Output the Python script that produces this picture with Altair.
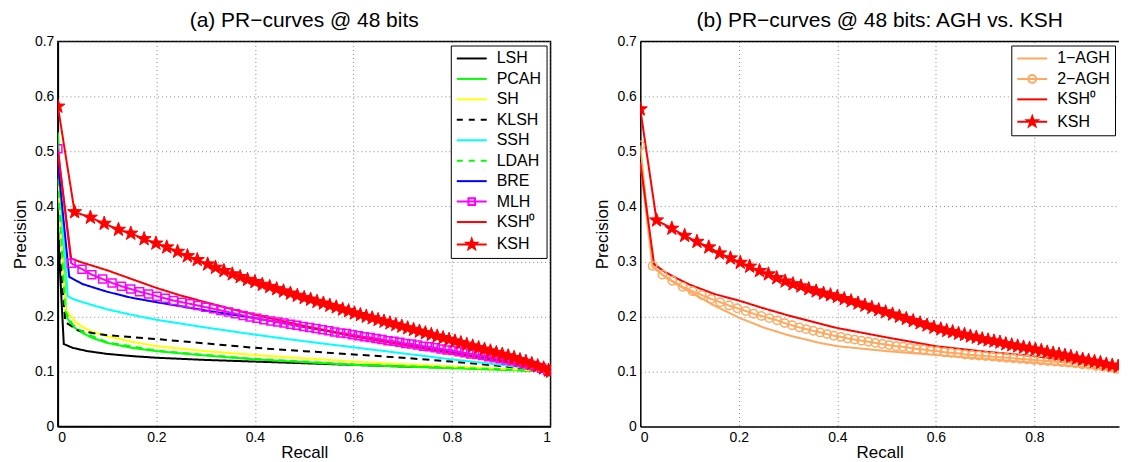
import math
import altair as alt
import pandas as pd

FONT = "Liberation Sans"

# ---------------- panel (a) data ----------------
methods_a = ["LSH", "PCAH", "SH", "KLSH", "SSH", "LDAH", "BRE", "MLH", "KSH⁰", "KSH"]
colors_a = ["#000000", "#00FF00", "#FFFF00", "#000000", "#00FFFF", "#00FF00",
            "#0000FF", "#FF00FF", "#FF0000", "#FF0000"]
dashed_a = [False, False, False, True, False, True, False, False, False, False]

lsh_r = [0, 0.012, 0.03, 0.06, 0.1, 0.15, 0.2, 0.3, 0.4, 0.5, 0.6, 0.7, 0.8, 0.9, 1.0]
lsh_p = [0.36, 0.150, 0.143, 0.137, 0.132, 0.128, 0.125, 0.121, 0.118, 0.115, 0.112, 0.109, 0.107, 0.104, 0.100]

pcah_r = [0, 0.017, 0.03, 0.05, 0.07, 0.1, 0.15, 0.2, 0.3, 0.4, 0.5, 0.6, 0.7, 0.8, 0.9, 1.0]
pcah_p = [0.535, 0.200, 0.182, 0.170, 0.161, 0.152, 0.143, 0.137, 0.129, 0.122, 0.117, 0.112, 0.109, 0.106, 0.103, 0.100]

sh_r = [0, 0.016, 0.037, 0.05, 0.07, 0.1, 0.15, 0.2, 0.3, 0.4, 0.5, 0.6, 0.7, 0.8, 0.9, 1.0]
sh_p = [0.45, 0.212, 0.189, 0.181, 0.172, 0.164, 0.154, 0.146, 0.137, 0.130, 0.124, 0.118, 0.113, 0.109, 0.105, 0.100]

klsh_r = [0, 0.015, 0.04, 0.07, 0.1, 0.2, 0.3, 0.4, 0.5, 0.6, 0.7, 0.8, 0.9, 1.0]
klsh_p = [0.36, 0.190, 0.175, 0.170, 0.166, 0.159, 0.151, 0.143, 0.137, 0.131, 0.125, 0.118, 0.110, 0.100]

ssh_r = [0, 0.02, 0.03, 0.05, 0.1, 0.15, 0.2, 0.3, 0.4, 0.5, 0.6, 0.7, 0.8, 0.9, 1.0]
ssh_p = [0.49, 0.237, 0.232, 0.226, 0.213, 0.203, 0.194, 0.180, 0.167, 0.155, 0.144, 0.133, 0.122, 0.112, 0.100]

ldah_r = [0, 0.015, 0.03, 0.05, 0.1, 0.2, 0.3, 0.4, 0.5, 0.6, 0.7, 0.8, 0.9, 1.0]
ldah_p = [0.45, 0.210, 0.185, 0.172, 0.153, 0.138, 0.130, 0.123, 0.118, 0.113, 0.110, 0.107, 0.104, 0.100]

bre_r = [0, 0.023, 0.05, 0.1, 0.15, 0.2, 0.3, 0.4, 0.5, 0.6, 0.7, 0.8, 0.9, 1.0]
bre_p = [0.48, 0.272, 0.259, 0.245, 0.234, 0.226, 0.211, 0.197, 0.181, 0.165, 0.150, 0.135, 0.120, 0.100]

mlh_r = [0.000, 0.027, 0.049, 0.069, 0.091, 0.110, 0.129, 0.148, 0.166, 0.184, 0.201, 0.218,
         0.235, 0.252, 0.268, 0.284, 0.300, 0.316, 0.331, 0.346, 0.361, 0.376, 0.390, 0.404,
         0.418, 0.432, 0.446, 0.459, 0.472, 0.485, 0.498, 0.511, 0.524, 0.537, 0.550, 0.562,
         0.574, 0.586, 0.598, 0.610, 0.622, 0.634, 0.646, 0.658, 0.670, 0.682, 0.694, 0.706,
         0.718, 0.730, 0.742, 0.754, 0.766, 0.778, 0.790, 0.802, 0.814, 0.826, 0.838, 0.850,
         0.862, 0.874, 0.886, 0.898, 0.910, 0.922, 0.934, 0.946, 0.958, 0.970, 0.982, 0.994, 1.000]
mlh_p = [0.505, 0.297, 0.286, 0.276, 0.268, 0.261, 0.255, 0.250, 0.245, 0.241, 0.237, 0.233,
         0.229, 0.226, 0.223, 0.220, 0.217, 0.214, 0.211, 0.208, 0.205, 0.202, 0.199, 0.197,
         0.194, 0.192, 0.190, 0.188, 0.186, 0.184, 0.182, 0.180, 0.178, 0.176, 0.174, 0.172,
         0.170, 0.169, 0.167, 0.165, 0.163, 0.162, 0.160, 0.158, 0.156, 0.155, 0.153, 0.151,
         0.150, 0.148, 0.146, 0.145, 0.143, 0.141, 0.139, 0.138, 0.136, 0.134, 0.132, 0.131,
         0.129, 0.127, 0.125, 0.123, 0.121, 0.119, 0.117, 0.114, 0.112, 0.109, 0.106, 0.102, 0.100]

ksh0_r = [0, 0.027, 0.05, 0.1, 0.15, 0.2, 0.25, 0.3, 0.35, 0.4, 0.5, 0.6, 0.7, 0.8, 0.9, 1.0]
ksh0_p = [0.50, 0.305, 0.298, 0.284, 0.268, 0.252, 0.238, 0.226, 0.214, 0.203, 0.183, 0.164, 0.148, 0.133, 0.118, 0.100]

ksh_r = [0.000, 0.034, 0.066, 0.094, 0.123, 0.148, 0.175, 0.199, 0.221, 0.243, 0.263, 0.283,
         0.304, 0.320, 0.337, 0.354, 0.370, 0.385, 0.400, 0.415, 0.430, 0.444, 0.458, 0.472,
         0.486, 0.500, 0.513, 0.526, 0.539, 0.552, 0.565, 0.578, 0.590, 0.602, 0.614, 0.626,
         0.638, 0.650, 0.662, 0.674, 0.686, 0.698, 0.710, 0.722, 0.734, 0.746, 0.758, 0.770,
         0.782, 0.794, 0.806, 0.818, 0.830, 0.842, 0.854, 0.866, 0.878, 0.890, 0.902, 0.914,
         0.926, 0.938, 0.950, 0.962, 0.974, 0.986, 0.996, 1.000]
ksh_p = [0.582, 0.390, 0.380, 0.369, 0.358, 0.351, 0.341, 0.333, 0.326, 0.318, 0.310, 0.303,
         0.295, 0.289, 0.283, 0.277, 0.272, 0.267, 0.263, 0.258, 0.254, 0.250, 0.246, 0.242,
         0.238, 0.234, 0.231, 0.227, 0.224, 0.220, 0.217, 0.213, 0.210, 0.206, 0.203, 0.200,
         0.197, 0.194, 0.191, 0.188, 0.185, 0.182, 0.179, 0.176, 0.173, 0.170, 0.167, 0.164,
         0.161, 0.158, 0.155, 0.152, 0.149, 0.146, 0.143, 0.140, 0.137, 0.134, 0.131, 0.128,
         0.125, 0.121, 0.118, 0.114, 0.110, 0.106, 0.102, 0.100]

# ---------------- panel (b) data ----------------
methods_b = ["1−AGH", "2−AGH", "KSH⁰", "KSH"]
colors_b = ["#FFA860", "#FFA860", "#FF0000", "#FF0000"]

agh1_r = [0, 0.025, 0.05, 0.075, 0.1, 0.15, 0.2, 0.25, 0.3, 0.364, 0.4, 0.5, 0.6, 0.7, 0.8, 0.9, 1.0]
agh1_p = [0.48, 0.290, 0.272, 0.258, 0.245, 0.220, 0.198, 0.180, 0.166, 0.152, 0.146, 0.137, 0.130, 0.123, 0.116, 0.108, 0.100]

agh2_r = [0.000, 0.025, 0.045, 0.065, 0.086, 0.106, 0.125, 0.144, 0.162, 0.180, 0.197, 0.214,
          0.230, 0.246, 0.262, 0.278, 0.293, 0.308, 0.323, 0.337, 0.351, 0.365, 0.379, 0.393,
          0.407, 0.421, 0.435, 0.449, 0.463, 0.477, 0.491, 0.505, 0.519, 0.533, 0.547, 0.561,
          0.575, 0.589, 0.603, 0.617, 0.631, 0.645, 0.659, 0.673, 0.687, 0.701, 0.715, 0.729,
          0.743, 0.757, 0.771, 0.785, 0.799, 0.813, 0.827, 0.841, 0.855, 0.869, 0.883, 0.897,
          0.911, 0.925, 0.939, 0.953, 0.967, 0.981, 0.995, 1.000]
agh2_p = [0.511, 0.292, 0.276, 0.265, 0.254, 0.246, 0.239, 0.232, 0.226, 0.220, 0.215, 0.210,
          0.205, 0.201, 0.197, 0.193, 0.188, 0.184, 0.180, 0.177, 0.174, 0.171, 0.168, 0.165,
          0.163, 0.160, 0.158, 0.156, 0.154, 0.152, 0.150, 0.148, 0.146, 0.145, 0.143, 0.141,
          0.140, 0.138, 0.137, 0.135, 0.134, 0.133, 0.131, 0.130, 0.129, 0.128, 0.127, 0.126,
          0.125, 0.124, 0.123, 0.122, 0.121, 0.120, 0.119, 0.118, 0.117, 0.116, 0.115, 0.113,
          0.112, 0.110, 0.109, 0.107, 0.105, 0.103, 0.101, 0.100]

kshb0_r = [0, 0.028, 0.05, 0.075, 0.1, 0.15, 0.2, 0.25, 0.3, 0.364, 0.4, 0.5, 0.6, 0.7, 0.8, 0.9, 1.0]
kshb0_p = [0.48, 0.295, 0.281, 0.269, 0.258, 0.241, 0.229, 0.215, 0.202, 0.187, 0.179, 0.162, 0.146, 0.136, 0.128, 0.117, 0.100]

kshb_r = [0.000, 0.033, 0.064, 0.090, 0.115, 0.139, 0.161, 0.183, 0.203, 0.222, 0.242, 0.260,
          0.277, 0.294, 0.310, 0.326, 0.342, 0.357, 0.372, 0.386, 0.400, 0.414, 0.428, 0.442,
          0.456, 0.470, 0.484, 0.498, 0.512, 0.526, 0.540, 0.554, 0.568, 0.582, 0.596, 0.610,
          0.622, 0.634, 0.646, 0.658, 0.670, 0.682, 0.694, 0.706, 0.718, 0.730, 0.742, 0.754,
          0.766, 0.778, 0.790, 0.802, 0.814, 0.826, 0.838, 0.850, 0.862, 0.874, 0.886, 0.898,
          0.910, 0.922, 0.934, 0.946, 0.958, 0.970, 0.982, 0.994, 1.000]
kshb_p = [0.577, 0.375, 0.360, 0.347, 0.336, 0.326, 0.315, 0.306, 0.298, 0.291, 0.283, 0.277,
          0.270, 0.264, 0.259, 0.255, 0.250, 0.246, 0.242, 0.239, 0.236, 0.232, 0.228, 0.224,
          0.220, 0.216, 0.212, 0.208, 0.204, 0.200, 0.196, 0.192, 0.188, 0.184, 0.180, 0.177,
          0.174, 0.172, 0.169, 0.167, 0.164, 0.162, 0.159, 0.157, 0.155, 0.153, 0.150, 0.148,
          0.146, 0.144, 0.142, 0.140, 0.138, 0.135, 0.133, 0.131, 0.129, 0.127, 0.124, 0.122,
          0.120, 0.118, 0.116, 0.113, 0.111, 0.109, 0.106, 0.103, 0.100]

# ---------------- styling helpers ----------------
def star_path(R, r):
    pts = []
    for i in range(10):
        rad = R if i % 2 == 0 else r
        a = -math.pi / 2 + i * math.pi / 5
        pts.append((rad * math.cos(a), rad * math.sin(a)))
    return "M" + "L".join(f"{x:.3f},{y:.3f}" for x, y in pts) + "Z"

STAR = star_path(1.0, 0.4)
LINE = "M-2.5,0H2.5"
DASH = "M-2.5,0H-1.5M-0.5,0H0.5M1.5,0H2.5"
SQUARE = LINE + "M-0.55,-0.55H0.55V0.55H-0.55Z"
CIRCLE = LINE + "M-0.65,0A0.65,0.65 0 1,0 0.65,0A0.65,0.65 0 1,0 -0.65,0Z"
LSTAR = LINE + star_path(0.9, 0.36)


def long_df(names, rs, ps):
    rows = []
    for n, r, p in zip(names, rs, ps):
        for i, (a, b) in enumerate(zip(r, p)):
            rows.append({"series": n + "|line", "i": i, "recall": a, "precision": b})
    return pd.DataFrame(rows)


def axes(xmax, xticks):
    X = alt.X("recall:Q", title="Recall",
              scale=alt.Scale(domain=[0, xmax], nice=False, zero=False),
              axis=alt.Axis(values=xticks, format="~g", titlePadding=0))
    Y = alt.Y("precision:Q", title="Precision",
              scale=alt.Scale(domain=[0, 0.7], nice=False, zero=False),
              axis=alt.Axis(values=[0, 0.1, 0.2, 0.3, 0.4, 0.5, 0.6, 0.7], format="~g"))
    return X, Y


def legend_props():
    return alt.Legend(title=None, orient="top-right", offset=4, padding=5,
                      strokeColor="black", fillColor="white", cornerRadius=0,
                      labelFont=FONT, labelFontSize=16, labelColor="black",
                      symbolSize=144, symbolStrokeWidth=2, symbolOffset=8,
                      labelOffset=17, rowPadding=4.5, symbolOpacity=1)


def panel(names, colors, dashes, rs, ps, shapes, fills, marker_layers, title,
          width, xmax, xticks, frame):
    X, Y = axes(xmax, xticks)
    df = long_df(names, rs, ps)
    keys = [n + "|line" for n in names]
    lines = alt.Chart(df).mark_line(strokeWidth=2, clip=True).encode(
        x=X, y=Y,
        color=alt.Color("series:N", scale=alt.Scale(domain=keys, range=colors), legend=None),
        strokeDash=alt.StrokeDash("series:N",
                                  scale=alt.Scale(domain=keys,
                                                  range=[[7, 5] if d else [1, 0] for d in dashes]),
                                  legend=None),
        order="i:Q",
    )
    leg_df = pd.DataFrame({"method": names, "recall": [5.0] * len(names),
                           "precision": [5.0] * len(names)})
    leg = alt.Chart(leg_df).mark_point(size=144, opacity=1, strokeWidth=2, clip=True).encode(
        x=X, y=Y,
        stroke=alt.Stroke("method:N", scale=alt.Scale(domain=names, range=colors), legend=legend_props()),
        fill=alt.Fill("method:N", scale=alt.Scale(domain=names, range=fills), legend=legend_props()),
        shape=alt.Shape("method:N", scale=alt.Scale(domain=names, range=shapes), legend=legend_props()),
    )
    layers = [lines]
    for (mr, mp, shp, size, fill, stroke, sw) in marker_layers:
        mdf = pd.DataFrame({"recall": mr, "precision": mp})
        layers.append(alt.Chart(mdf).mark_point(shape=shp, size=size, fill=fill, stroke=stroke,
                                                strokeWidth=sw, opacity=1, filled=fill != "transparent",
                                                clip=True).encode(x=X, y=Y))
    if not frame:
        top = alt.Chart(pd.DataFrame({"top": [0.7]})).mark_rule(
            color="black", strokeWidth=1.5).encode(y=alt.Y("top:Q", scale=alt.Scale(domain=[0, 0.7])))
        layers.append(top)
    layers.append(leg)
    props = dict(width=width, height=386,
                 title=alt.TitleParams(title, fontSize=21, font=FONT, fontWeight="normal",
                                       color="black", offset=4, anchor="middle"))
    if not frame:
        props["view"] = alt.ViewBackground(stroke="transparent")
    return alt.layer(*layers).properties(**props)


shapes_a = [LINE, LINE, LINE, DASH, LINE, DASH, LINE, SQUARE, LINE, LSTAR]
fills_a = ["transparent"] * 9 + ["#FF0000"]
left = panel(methods_a, colors_a, dashed_a,
             [lsh_r, pcah_r, sh_r, klsh_r, ssh_r, ldah_r, bre_r, mlh_r, ksh0_r, ksh_r],
             [lsh_p, pcah_p, sh_p, klsh_p, ssh_p, ldah_p, bre_p, mlh_p, ksh0_p, ksh_p],
             shapes_a, fills_a,
             [(mlh_r, mlh_p, "square", 64, "transparent", "#FF00FF", 1.5),
              (ksh_r, ksh_p, STAR, 220, "#FF0000", "#FF0000", 1)],
             "(a) PR−curves @ 48 bits", 494, 1.0, [0, 0.2, 0.4, 0.6, 0.8, 1], True)

shapes_b = [LINE, CIRCLE, LINE, LSTAR]
fills_b = ["transparent", "transparent", "transparent", "#FF0000"]
right = panel(methods_b, colors_b, [False] * 4,
              [agh1_r, agh2_r, kshb0_r, kshb_r],
              [agh1_p, agh2_p, kshb0_p, kshb_p],
              shapes_b, fills_b,
              [(agh2_r, agh2_p, "circle", 70, "transparent", "#FFA860", 1.5),
               (kshb_r, kshb_p, STAR, 220, "#FF0000", "#FF0000", 1)],
              "(b) PR−curves @ 48 bits: AGH vs. KSH", 480, 0.9717, [0, 0.2, 0.4, 0.6, 0.8], False)

chart = alt.hconcat(left, right, spacing=41).resolve_scale(
    color="independent", strokeDash="independent", stroke="independent",
    fill="independent", shape="independent", x="independent", y="independent"
).resolve_legend(
    stroke="independent", fill="independent", shape="independent"
).properties(
    padding={"left": 2, "top": 0, "right": 0, "bottom": 0},
    background="white",
).configure_view(stroke="black", strokeWidth=1.5).configure_axis(
    labelFont=FONT, labelFontSize=14, labelColor="black", labelPadding=4,
    titleFont=FONT, titleFontSize=17, titleFontWeight="normal", titleColor="black",
    titlePadding=5, domainColor="black", domainWidth=1.5, ticks=False,
    grid=True, gridColor="#888888", gridDash=[1, 3], gridWidth=1, gridOpacity=1,
)

chart.save("out.html", embed_options={"renderer": "svg", "actions": False})
